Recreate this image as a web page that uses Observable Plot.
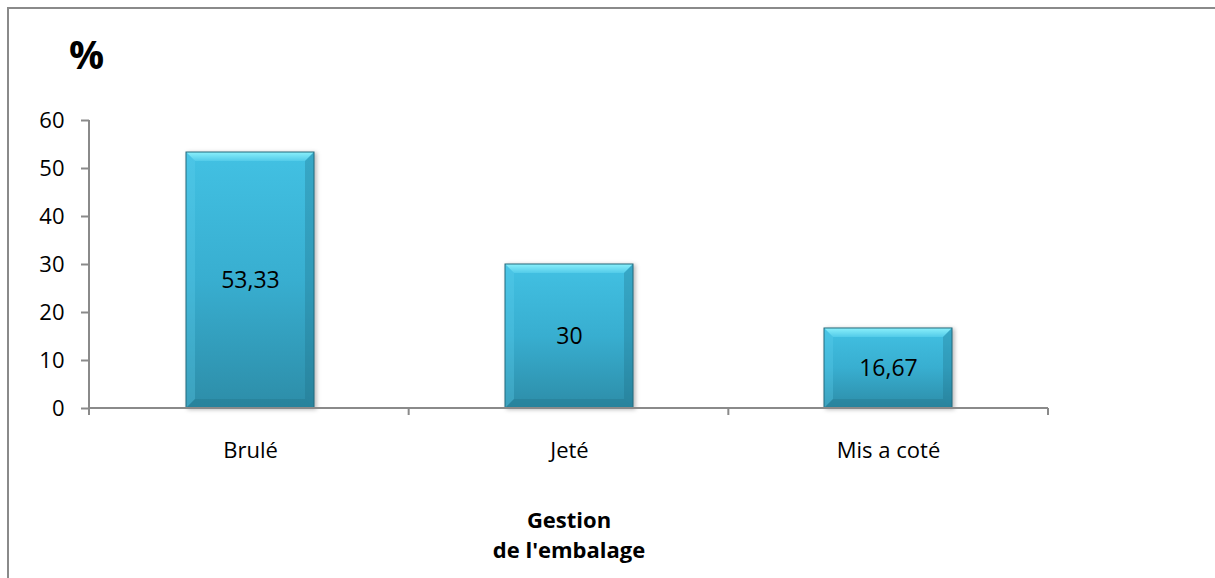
<!DOCTYPE html>
<html lang="fr">
<head>
<meta charset="utf-8">
<title>Gestion de l'embalage</title>
<script src="https://cdn.jsdelivr.net/npm/d3@7"></script>
<script src="https://cdn.jsdelivr.net/npm/@observablehq/plot@0.6"></script>
<style>
  html, body { margin: 0; padding: 0; background: #fff; }
  #wrap { position: relative; width: 1215px; height: 578px; overflow: hidden; }
  #border { position: absolute; left: 7px; top: 7px; width: 1300px; height: 700px;
            border-left: 2px solid #8a8a8a; border-top: 2px solid #8a8a8a; box-sizing: border-box; }
  #chart { position: absolute; left: 0; top: 0; }
</style>
</head>
<body>
<div id="wrap"><div id="border"></div><div id="chart"></div></div>
<script>
// Répartition des modes de gestion de l'emballage (%)
const categories = ["Brulé", "Jeté", "Mis a coté"];
const values = [53.33, 30, 16.67];
const yTicks = [0, 10, 20, 30, 40, 50, 60];
const yTitle = "%";
const xTitle = ["Gestion", "de l'embalage"];

const data = categories.map((cat, i) => ({cat, value: values[i]}));
const fmt = (v) => String(v).replace(".", ",");

// Bevel overlay drawn on top of each rendered bar
function bevel(index, scales, vals, dims, ctx, next) {
  const g = next(index, scales, vals, dims, ctx);
  const sel = d3.select(g);
  sel.style("filter", "drop-shadow(2px 1px 2px rgba(0,0,0,0.28))");
  const rects = sel.selectAll("rect").nodes();
  const b = 9;
  for (const r of rects) {
    const x = +r.getAttribute("x"), y = +r.getAttribute("y");
    const w = +r.getAttribute("width"), h = +r.getAttribute("height");
    const poly = (pts, fill, op) => sel.append("polygon")
      .attr("points", pts.map(p => p.join(",")).join(" "))
      .attr("fill", fill).attr("fill-opacity", op);
    poly([[x, y], [x + w, y], [x + w - b, y + b], [x + b, y + b]], "url(#bevelTop)", 1);
    poly([[x, y], [x + b, y + b], [x + b, y + h - b], [x, y + h]], "#5fd2ee", 0.3);
    poly([[x + w, y], [x + w, y + h], [x + w - b, y + h - b], [x + w - b, y + b]], "#1d6e85", 0.3);
    poly([[x, y + h], [x + w, y + h], [x + w - b, y + h - b], [x + b, y + h - b]], "#1b6276", 0.25);
    sel.append("rect").attr("x", x).attr("y", y).attr("width", w).attr("height", h)
      .attr("fill", "none").attr("stroke", "#236b7e").attr("stroke-width", 1);
  }
  return g;
}

// Axis lines and category boundary ticks
function frameLines(index, scales, vals, dims) {
  const {width, height, marginLeft: l, marginRight: r, marginTop: t, marginBottom: bt} = dims;
  const y0 = height - bt;
  const g = d3.create("svg:g").attr("stroke", "#8a8a8a").attr("stroke-width", 2);
  g.append("line").attr("x1", l).attr("x2", l).attr("y1", t).attr("y2", y0 + 7);
  g.append("line").attr("x1", l).attr("x2", width - r).attr("y1", y0).attr("y2", y0);
  const step = (width - l - r) / categories.length;
  for (let i = 0; i <= categories.length; i++) {
    const x = l + i * step;
    g.append("line").attr("x1", x).attr("x2", x).attr("y1", y0).attr("y2", y0 + 7);
  }
  return g.node();
}

const plot = Plot.plot({
  width: 1215,
  height: 578,
  marginLeft: 89,
  marginRight: 167,
  marginTop: 120,
  marginBottom: 170,
  style: {fontFamily: "'Open Sans', sans-serif", fontSize: "22px", background: "transparent", color: "#000"},
  x: {domain: categories, paddingInner: 0.6, paddingOuter: 0.3},
  y: {domain: [0, 60]},
  marks: [
    Plot.barY(data, {x: "cat", y: "value", fill: "url(#barFill)", render: bevel}),
    Plot.axisY({ticks: yTicks, tickSize: 8, tickPadding: 17, fontSize: 22, stroke: "#8a8a8a", strokeWidth: 2, fill: "#000", label: null}),
    Plot.axisX({tickSize: 0, tickPadding: 34, fontSize: 22, fill: "#000", label: null}),
    frameLines,
    Plot.text(data, {x: "cat", y: (d) => d.value / 2, text: (d) => fmt(d.value), fontSize: 23, fill: "#000"}),
    Plot.text([yTitle], {text: (d) => d, frameAnchor: "top-left", textAnchor: "middle", dx: -3, dy: -79, fontSize: 39, fontWeight: "bold", fill: "#000"}),
    Plot.text([xTitle.join("\n")], {text: (d) => d, frameAnchor: "bottom", lineAnchor: "top", dy: 98, fontSize: 22, fontWeight: "bold", lineHeight: 1.36, fill: "#000"})
  ]
});

d3.select(plot).insert("defs", ":first-child").html(`
  <linearGradient id="barFill" x1="0" y1="0" x2="0" y2="1">
    <stop offset="0" stop-color="#42c1e3"/>
    <stop offset="0.5" stop-color="#38aed0"/>
    <stop offset="1" stop-color="#2d8da8"/>
  </linearGradient>
  <linearGradient id="bevelTop" x1="0" y1="0" x2="0" y2="1">
    <stop offset="0" stop-color="#8bf0fb"/>
    <stop offset="1" stop-color="#52cbe9"/>
  </linearGradient>`);

document.getElementById("chart").appendChild(plot);
</script>
</body>
</html>
